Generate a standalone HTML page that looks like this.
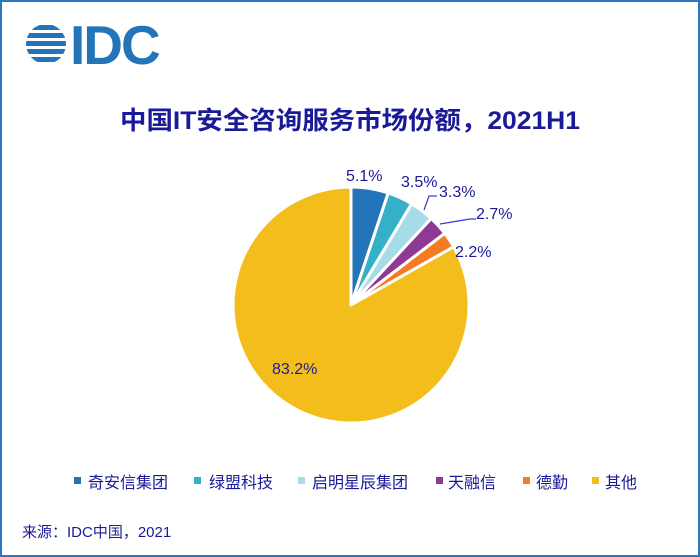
<!DOCTYPE html>
<html><head><meta charset="utf-8"><style>
html,body{margin:0;padding:0;background:#fff}
body{width:700px;height:557px;overflow:hidden;position:relative;font-family:"Liberation Sans","Noto Sans CJK SC",sans-serif}
.frame{position:absolute;left:0;top:0;width:696px;height:553px;border:2px solid #2a78c0}
</style></head><body>
<div class="frame"></div>
<svg width="700" height="557" style="position:absolute;left:0;top:0" font-family="Liberation Sans, Noto Sans CJK SC, sans-serif">
<g fill="#2474b9">
<clipPath id="c"><circle cx="46" cy="44" r="20"/></clipPath>
<g clip-path="url(#c)">
<rect x="20" y="25" width="55" height="5"/><rect x="20" y="33" width="55" height="5"/><rect x="20" y="41" width="55" height="5"/><rect x="20" y="49" width="55" height="5"/><rect x="20" y="57" width="55" height="5"/>
</g>
<text x="70" y="64" font-size="55" font-weight="bold" fill="#2474b9" font-family="Liberation Sans, sans-serif" letter-spacing="-2">IDC</text>
</g>
<text x="350" y="129" text-anchor="middle" font-size="25" font-weight="bold" fill="#1a1a99" textLength="460" lengthAdjust="spacingAndGlyphs">中国IT安全咨询服务市场份额，2021H1</text>
<g stroke="#fff" stroke-width="3" stroke-linejoin="round">
<path d="M351,305 L351,187 A118,118 0 0 1 388.2,193 Z" fill="#2474b9"/>
<path d="M351,305 L388.2,193 A118,118 0 0 1 411.7,203.8 Z" fill="#35b0c9"/>
<path d="M351,305 L411.7,203.8 A118,118 0 0 1 431.2,218.5 Z" fill="#a6dbe8"/>
<path d="M351,305 L431.2,218.5 A118,118 0 0 1 444.8,233.3 Z" fill="#8e3a92"/>
<path d="M351,305 L444.8,233.3 A118,118 0 0 1 453.7,246.8 Z" fill="#f47b20"/>
<path d="M351,305 L453.7,246.8 A118,118 0 1 1 351,187 Z" fill="#f3be1c"/>
</g>
<g fill="none" stroke="#3a3ad0" stroke-width="1.2">
<polyline points="424,210 429,196 437,196"/>
<polyline points="440,224 470,219 476,219"/>
</g>
<g font-size="16" fill="#1a1a99">
<text x="346" y="181">5.1%</text>
<text x="401" y="187">3.5%</text>
<text x="439" y="197">3.3%</text>
<text x="476" y="219">2.7%</text>
<text x="455" y="257">2.2%</text>
<text x="272" y="374">83.2%</text>
</g>
<g font-size="16" fill="#1a1a99">
<rect x="74" y="477" width="7" height="7" fill="#2474b9"/><text x="88" y="488">奇安信集团</text>
<rect x="194" y="477" width="7" height="7" fill="#35b0c9"/><text x="209" y="488">绿盟科技</text>
<rect x="298" y="477" width="7" height="7" fill="#a6dbe8"/><text x="312" y="488">启明星辰集团</text>
<rect x="436" y="477" width="7" height="7" fill="#8e3a92"/><text x="448" y="488">天融信</text>
<rect x="523" y="477" width="7" height="7" fill="#f47b20"/><text x="536" y="488">德勤</text>
<rect x="592" y="477" width="7" height="7" fill="#f3be1c"/><text x="605" y="488">其他</text>
<text x="22" y="537" font-size="15">来源：IDC中国，2021</text>
</g>
</svg>
</body></html>
